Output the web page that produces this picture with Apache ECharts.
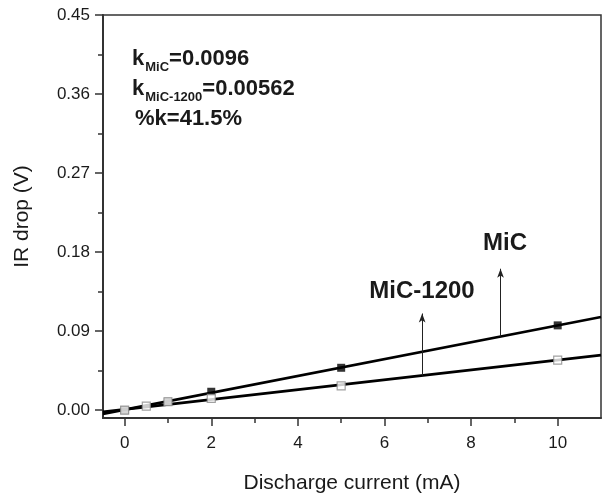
<!DOCTYPE html>
<html><head><meta charset="utf-8">
<script src="https://cdn.jsdelivr.net/npm/echarts@6/dist/echarts.min.js"></script>
<style>html,body{margin:0;padding:0;background:#fff}#c{width:603px;height:500px}</style>
</head><body><div id="c"></div>
<script>
// Data
const micX = [0, 1, 2, 5, 10];
const micY = [0.0, 0.0095, 0.0209, 0.0482, 0.0965];
const mic1200X = [0, 0.5, 1, 2, 5, 10];
const mic1200Y = [0.0, 0.0046, 0.0095, 0.0133, 0.0277, 0.057];
const micFit = [[-0.5, -0.0043], [11, 0.1061]];
const mic1200Fit = [[-0.5, -0.002], [11, 0.0626]];
const xTicks = [0, 2, 4, 6, 8, 10];
const xMinor = [1, 3, 5, 7, 9];
const yTicks = [0, 0.09, 0.18, 0.27, 0.36, 0.45];
const yMinor = [0.045, 0.135, 0.225, 0.315, 0.405];
const arrowMic1200 = [[6.87, 0.0394], [6.87, 0.110]];
const arrowMic = [[8.68, 0.0838], [8.68, 0.161]];

const FONT = 'Liberation Sans, Arial, sans-serif';
const AX = '#333';
const TXT = '#1a1a1a';
const xr = {min: -0.5, max: 11};
const yr = {min: -0.009, max: 0.45};

const chart = echarts.init(document.getElementById('c'), null, {renderer: 'canvas'});
const zip = (a, b) => a.map((v, i) => [v, b[i]]);

chart.setOption({
  animation: false,
  backgroundColor: '#fff',
  grid: {left: 103, right: 2, top: 15, bottom: 82, show: true, borderColor: AX, borderWidth: 1.5, backgroundColor: 'transparent'},
  xAxis: [{
    type: 'value', min: xr.min, max: xr.max,
    name: 'Discharge current (mA)', nameLocation: 'middle', nameGap: 55,
    nameTextStyle: {fontFamily: FONT, fontSize: 21, color: TXT},
    axisLine: {onZero: false, lineStyle: {color: AX, width: 2}},
    axisTick: {show: true, inside: false, length: 8, customValues: xTicks, lineStyle: {color: AX, width: 1.5}},
    axisLabel: {customValues: xTicks, margin: 17, fontFamily: FONT, fontSize: 17, color: TXT},
    splitLine: {show: false}
  }, {
    type: 'value', min: xr.min, max: xr.max, position: 'bottom', gridIndex: 0,
    axisLine: {show: false, onZero: false},
    axisTick: {show: true, length: 5, customValues: xMinor, lineStyle: {color: AX, width: 1.5}},
    axisLabel: {show: false}, splitLine: {show: false}
  }],
  yAxis: [{
    type: 'value', min: yr.min, max: yr.max,
    name: 'IR drop (V)', nameLocation: 'middle', nameGap: 70,
    nameTextStyle: {fontFamily: FONT, fontSize: 21, color: TXT},
    axisLine: {show: true, onZero: false, lineStyle: {color: AX, width: 2}},
    axisTick: {show: true, length: 8, customValues: yTicks, lineStyle: {color: AX, width: 1.5}},
    axisLabel: {customValues: yTicks, margin: 13, fontFamily: FONT, fontSize: 17, color: TXT,
      formatter: v => v.toFixed(2)},
    splitLine: {show: false}
  }, {
    type: 'value', min: yr.min, max: yr.max, position: 'left',
    axisLine: {show: false, onZero: false},
    axisTick: {show: true, length: 5, customValues: yMinor, lineStyle: {color: AX, width: 1.5}},
    axisLabel: {show: false}, splitLine: {show: false}
  }],
  series: [
    {type: 'line', data: micFit, symbol: 'none', lineStyle: {color: '#000', width: 2.6}, z: 3,
      markLine: {silent: true, symbol: ['none', 'arrow'], symbolSize: [5, 9],
        lineStyle: {color: '#222', width: 1, type: 'solid'}, label: {show: false},
        data: [[{coord: arrowMic[0]}, {coord: arrowMic[1]}]]}},
    {type: 'line', data: mic1200Fit, symbol: 'none', lineStyle: {color: '#000', width: 2.6}, z: 3,
      markLine: {silent: true, symbol: ['none', 'arrow'], symbolSize: [5, 9],
        lineStyle: {color: '#222', width: 1, type: 'solid'}, label: {show: false},
        data: [[{coord: arrowMic1200[0]}, {coord: arrowMic1200[1]}]]}},
    {type: 'scatter', data: zip(micX, micY), symbol: 'rect', symbolSize: 8,
      itemStyle: {color: '#000', borderColor: '#000', borderWidth: 0}, z: 4},
    {type: 'scatter', data: zip(mic1200X, mic1200Y), symbol: 'rect', symbolSize: 8,
      itemStyle: {color: '#fff', borderColor: '#8a8a8a', borderWidth: 1.2}, z: 5}
  ],
  graphic: [
    {type: 'text', left: 132, top: 43, z: 10, style: {
      text: '{k|k}{s|MiC}{k|=0.0096}\n{k|k}{s|MiC-1200}{k|=0.00562}\n{p|%k=41.5%}',
      rich: {
        k: {fontFamily: FONT, fontSize: 22, fontWeight: 'bold', fill: TXT, lineHeight: 30, verticalAlign: 'middle'},
        p: {fontFamily: FONT, fontSize: 22, fontWeight: 'bold', fill: TXT, lineHeight: 30, verticalAlign: 'middle', padding: [0, 0, 0, 3]},
        s: {fontFamily: FONT, fontSize: 13, fontWeight: 'bold', fill: TXT, lineHeight: 14, padding: [18, 0, 0, 1], verticalAlign: 'middle'}
      }}},
    {type: 'text', x: 505, y: 243, z: 10, style: {text: 'MiC', fontFamily: FONT, fontSize: 24, fontWeight: 'bold', fill: TXT, align: 'center', verticalAlign: 'middle'}},
    {type: 'text', x: 422, y: 291, z: 10, style: {text: 'MiC-1200', fontFamily: FONT, fontSize: 24, fontWeight: 'bold', fill: TXT, align: 'center', verticalAlign: 'middle'}}
  ]
});
</script></body></html>
